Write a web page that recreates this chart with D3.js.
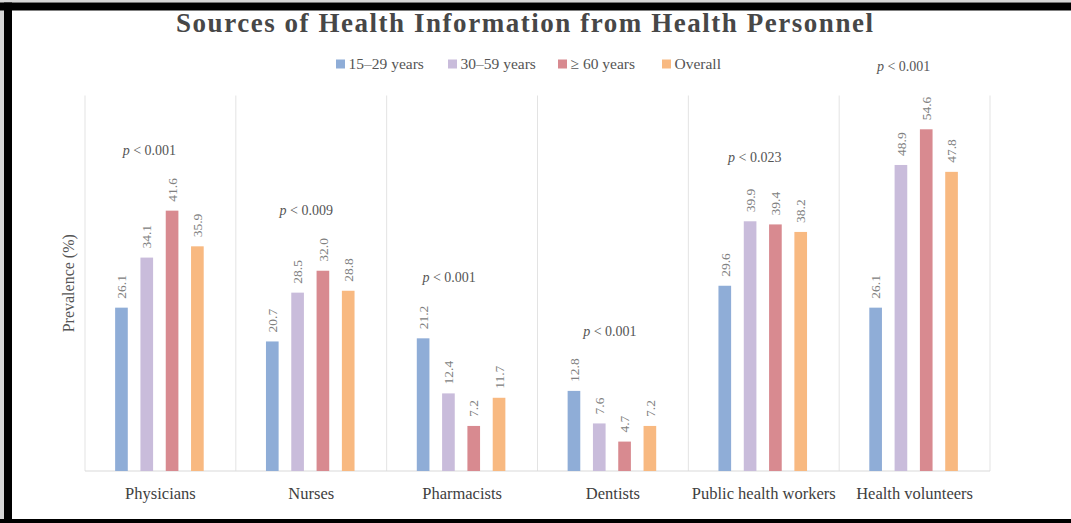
<!DOCTYPE html>
<html>
<head>
<meta charset="utf-8">
<script src="https://cdn.jsdelivr.net/npm/d3@7"></script>
<style>
  html, body { margin: 0; padding: 0; background: #ffffff; }
  svg { display: block; }
</style>
</head>
<body>
<script>
// Health personnel as sources of health information, by age group (%)
const categories = ["Physicians", "Nurses", "Pharmacists", "Dentists", "Public health workers", "Health volunteers"];
const seriesNames = ["15\u201329 years", "30\u201359 years", "\u2265 60 years", "Overall"];
const age15to29 = [26.1, 20.7, 21.2, 12.8, 29.6, 26.1];
const age30to59 = [34.1, 28.5, 12.4, 7.6, 39.9, 48.9];
const age60plus = [41.6, 32.0, 7.2, 4.7, 39.4, 54.6];
const overall   = [35.9, 28.8, 11.7, 7.2, 38.2, 47.8];
const pValues   = ["0.001", "0.009", "0.001", "0.001", "0.023", "0.001"];
// height (in % units) at which each p-value note sits
const pLevels   = [51.3, 41.7, 31.0, 22.4, 50.2, 64.7];

const colors = ["#8fadd7", "#c9bcdb", "#d88a90", "#f8b981"];
const seriesValues = [age15to29, age30to59, age60plus, overall];

const W = 1071, H = 523;
const svg = d3.select("body").append("svg").attr("width", W).attr("height", H);

// page frame
svg.append("rect").attr("x", 0).attr("y", 0).attr("width", W).attr("height", H).attr("fill", "#ffffff");
svg.append("rect").attr("x", 0).attr("y", 0).attr("width", W).attr("height", 2.5).attr("fill", "#d6d6d6");
svg.append("rect").attr("x", 0).attr("y", 0).attr("width", 4).attr("height", H).attr("fill", "#d6d6d6");
svg.append("rect").attr("x", 0).attr("y", 2.5).attr("width", W).attr("height", 8).attr("fill", "#000");
svg.append("rect").attr("x", 4).attr("y", 2.5).attr("width", 8).attr("height", H).attr("fill", "#000");
svg.append("rect").attr("x", 0).attr("y", 519).attr("width", W).attr("height", 4).attr("fill", "#000");

const serif = "'Liberation Serif', 'Times New Roman', serif";

const x = d3.scaleBand().domain(categories).range([85, 990]).paddingInner(0).paddingOuter(0);
const xs = d3.scaleBand().domain(seriesNames).range([-1, x.bandwidth() - 1]).paddingInner(0.5).paddingOuter(1.23);
const y = d3.scaleLinear().domain([0, 60]).range([471, 95.5]);

// category separators
const seps = d3.range(categories.length + 1).map(i => i === categories.length ? x.range()[1] : x(categories[i]));
svg.append("g").selectAll("line").data(seps).join("line")
  .attr("x1", d => d).attr("x2", d => d)
  .attr("y1", y(60)).attr("y2", y(0))
  .attr("stroke", "#e3e3e3").attr("stroke-width", 1);

// baseline
svg.append("line").attr("x1", x.range()[0]).attr("x2", x.range()[1])
  .attr("y1", y(0)).attr("y2", y(0)).attr("stroke", "#d9d9d9").attr("stroke-width", 1.2);

// bars
const rows = [];
categories.forEach((c, ci) => {
  seriesNames.forEach((s, si) => rows.push({ c, s, si, v: seriesValues[si][ci] }));
});

const g = svg.append("g");
g.selectAll("rect.bar").data(rows).join("rect")
  .attr("class", "bar")
  .attr("x", d => x(d.c) + xs(d.s))
  .attr("width", xs.bandwidth())
  .attr("y", d => y(d.v))
  .attr("height", d => y(0) - y(d.v))
  .attr("fill", d => colors[d.si]);

// value labels, rotated
g.selectAll("text.val").data(rows).join("text")
  .attr("class", "val")
  .attr("transform", d => `translate(${x(d.c) + xs(d.s) + xs.bandwidth() / 2},${y(d.v) - 9}) rotate(-90)`)
  .attr("text-anchor", "start")
  .attr("dy", "0.35em")
  .attr("font-family", serif)
  .attr("font-size", 13.5)
  .attr("fill", "#808080")
  .text(d => d.v.toFixed(1));

// p-value notes
const pOffsets = [-11, -5, -13, -3, -9, -11];
const pt = svg.append("g").selectAll("text").data(categories).join("text")
  .attr("x", (d, i) => x(d) + x.bandwidth() / 2 + pOffsets[i])
  .attr("y", (d, i) => y(pLevels[i]))
  .attr("text-anchor", "middle")
  .attr("dy", "0.35em")
  .attr("font-family", serif)
  .attr("font-size", 14)
  .attr("fill", "#555");
pt.append("tspan").attr("font-style", "italic").text("p");
pt.append("tspan").text((d, i) => " < " + pValues[i]);

// category axis labels
const xAxis = d3.axisBottom(x).tickSize(0).tickPadding(16);
const ax = svg.append("g").attr("transform", `translate(0,${y(0)})`).call(xAxis);
ax.select(".domain").remove();
ax.selectAll("text").attr("font-family", serif).attr("font-size", 16.5).attr("fill", "#404040");

// y-axis title
svg.append("text")
  .attr("transform", `translate(74,${(y(0) + y(60)) / 2}) rotate(-90)`)
  .attr("text-anchor", "middle")
  .attr("font-family", serif)
  .attr("font-size", 16)
  .attr("fill", "#555")
  .text("Prevalence (%)");

// chart title
svg.append("text")
  .attr("x", 524.5).attr("y", 32)
  .attr("text-anchor", "middle")
  .attr("font-family", serif)
  .attr("font-weight", "bold")
  .attr("font-size", 27)
  .attr("fill", "#474747")
  .attr("textLength", 697)
  .attr("lengthAdjust", "spacing")
  .text("Sources of Health Information from Health Personnel");

// legend
const legendX = [336, 448, 558, 662];
const lg = svg.append("g").selectAll("g").data(seriesNames).join("g")
  .attr("transform", (d, i) => `translate(${legendX[i]},64)`);
lg.append("rect").attr("x", 0).attr("y", -4.5).attr("width", 9).attr("height", 9)
  .attr("fill", (d, i) => colors[i]);
lg.append("text").attr("x", 12.5).attr("dy", "0.35em")
  .attr("font-family", serif).attr("font-size", 15.5).attr("fill", "#555")
  .text(d => d);
</script>
</body>
</html>
